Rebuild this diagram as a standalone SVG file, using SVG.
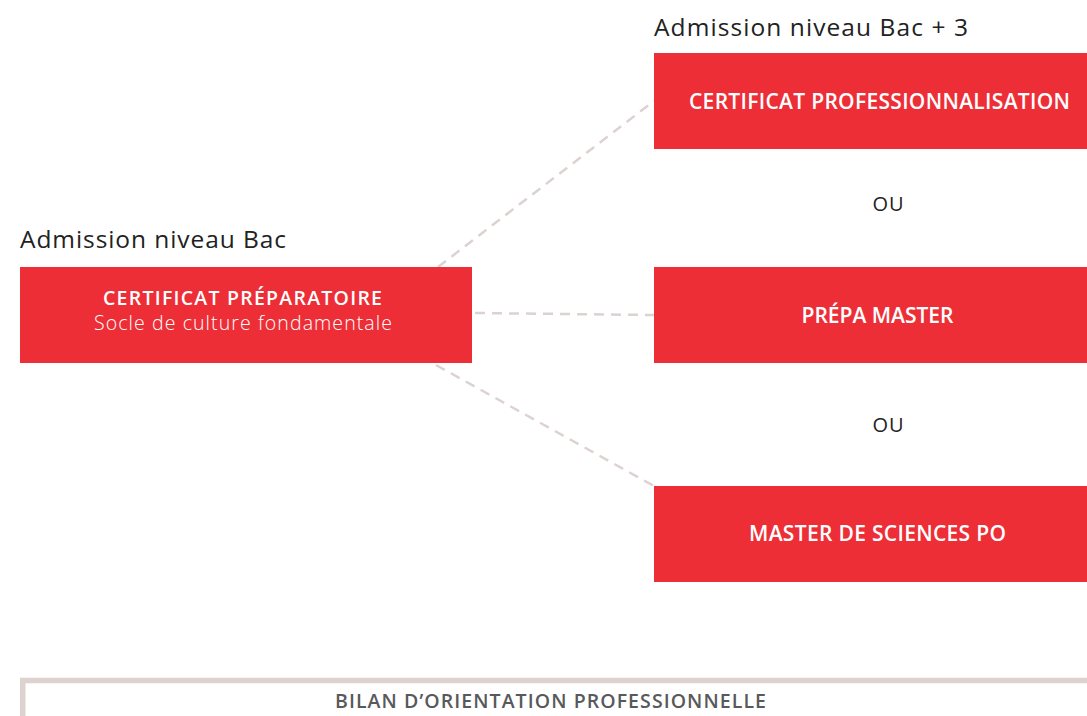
<svg xmlns="http://www.w3.org/2000/svg" width="1087" height="716" viewBox="0 0 1087 716">
<style>
.box{fill:#ee2e37}
text{font-family:"Open Sans",Lato,sans-serif}
.lbl{fill:#ffffff;text-anchor:middle;font-weight:600}
.sub{fill:#ffffff;text-anchor:middle;font-weight:300}
.head{fill:#222222;font-size:24.5px}
.ou{fill:#222222;font-size:20px;text-anchor:middle}
.link{stroke:#dcd3d0;stroke-width:2.5;stroke-dasharray:10 7;fill:none}
</style>
<rect width="1087" height="716" fill="#ffffff"/>
<g id="connectors">
<line class="link" x1="438" y1="267" x2="654" y2="101"/>
<line class="link" x1="475" y1="313" x2="654" y2="315"/>
<line class="link" x1="436" y1="365" x2="654" y2="486"/>
</g>
<g id="head-bac"><text class="head" x="20" y="248" textLength="266">Admission niveau Bac</text></g>
<g id="head-bac3"><text class="head" x="654" y="36" textLength="314">Admission niveau Bac + 3</text></g>
<g id="certificat-preparatoire">
<rect class="box" x="20" y="267" width="452" height="96"/>
<text class="lbl" x="242.5" y="305" font-size="19.5" textLength="279">CERTIFICAT PRÉPARATOIRE</text>
<text class="sub" x="243" y="330" font-size="19.5" textLength="298">Socle de culture fondamentale</text>
</g>
<g id="certificat-professionnalisation">
<rect class="box" x="654" y="53" width="433" height="96"/>
<text class="lbl" x="879.5" y="108.5" font-size="21" textLength="381">CERTIFICAT PROFESSIONNALISATION</text>
</g>
<g id="ou1"><text class="ou" x="888" y="211" textLength="31">OU</text></g>
<g id="prepa-master">
<rect class="box" x="654" y="267" width="433" height="96"/>
<text class="lbl" x="877.5" y="323" font-size="21" textLength="152">PRÉPA MASTER</text>
</g>
<g id="ou2"><text class="ou" x="888" y="432" textLength="31">OU</text></g>
<g id="master-sciences-po">
<rect class="box" x="654" y="486" width="433" height="96"/>
<text class="lbl" x="877.5" y="541" font-size="21" textLength="257">MASTER DE SCIENCES PO</text>
</g>
<g id="bilan">
<path d="M22.75 716 V680.5 H1087" fill="none" stroke="#dcd3d0" stroke-width="5.5"/>
<text x="550.5" y="708" font-size="19.5" fill="#58595b" text-anchor="middle" font-weight="600" textLength="431">BILAN D’ORIENTATION PROFESSIONNELLE</text>
</g>
</svg>
